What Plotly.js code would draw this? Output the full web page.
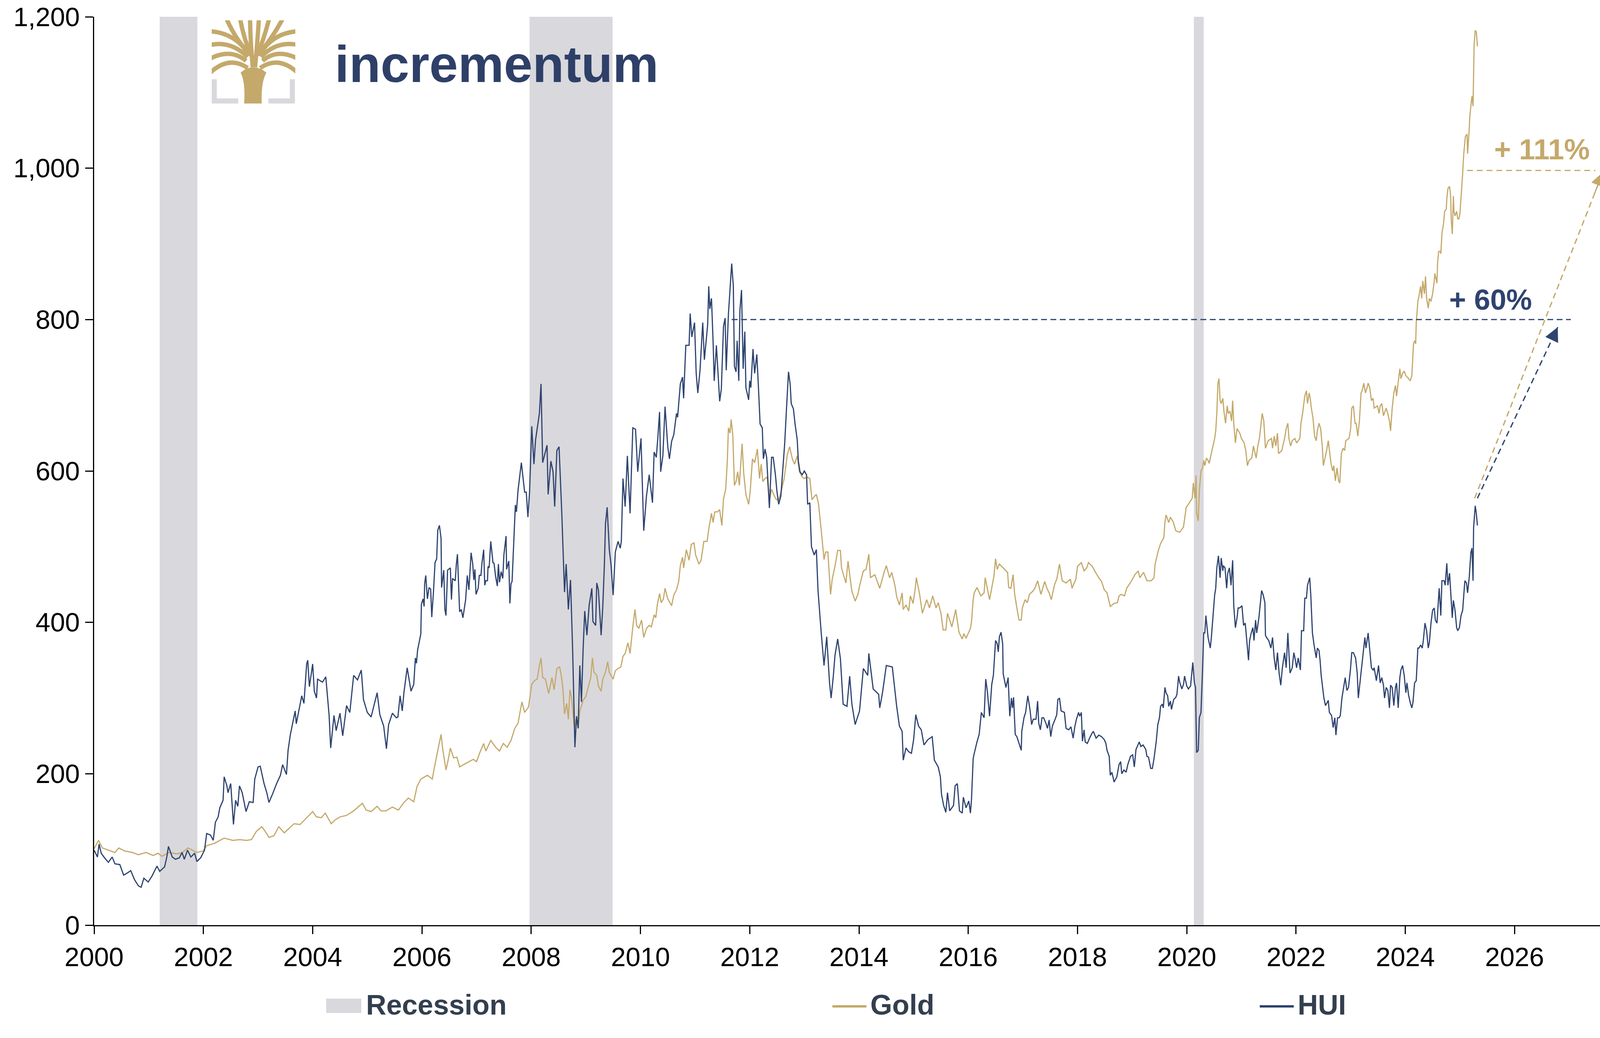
<!DOCTYPE html>
<html><head><meta charset="utf-8">
<script src="https://cdn.plot.ly/plotly-3.0.1.min.js"></script>
<style>html,body{margin:0;padding:0;background:#fff;}</style>
</head><body>
<div id="chart" style="width:4267px;height:2658px"></div>
<script>
// ---- data (decimal years, index 2000 = 100) ----
const hui_years = [
2000.00,2000.06,2000.09,2000.13,2000.19,2000.26,2000.33,2000.38,2000.47,2000.54,2000.61,2000.67,2000.74,2000.81,2000.86,2000.91,2000.99,
2001.06,2001.15,2001.20,2001.29,2001.33,2001.36,2001.43,2001.49,2001.56,2001.61,2001.65,2001.71,2001.77,2001.84,2001.88,2001.95,
2002.02,2002.06,2002.13,2002.18,2002.22,2002.27,2002.30,2002.36,2002.38,2002.43,2002.45,2002.50,2002.55,2002.59,2002.63,2002.66,2002.71,2002.78,2002.84,2002.91,2002.94,
2003.00,2003.04,2003.11,2003.16,2003.20,2003.27,2003.34,2003.41,2003.45,2003.52,2003.55,2003.59,2003.64,2003.68,2003.70,2003.80,2003.84,2003.89,2003.91,2003.94,
2004.00,2004.03,2004.07,2004.09,2004.18,2004.24,2004.30,2004.33,2004.39,2004.43,2004.50,2004.55,2004.62,2004.68,2004.75,2004.82,2004.89,2004.93,
2005.00,2005.07,2005.18,2005.23,2005.30,2005.35,2005.39,2005.46,2005.53,2005.56,2005.60,2005.64,2005.67,2005.73,2005.80,2005.85,
2005.88,2005.90,2005.92,2005.96,2005.98,2005.99,2006.02,2006.04,2006.05,2006.07,2006.10,2006.13,2006.16,2006.18,2006.21,2006.24,2006.27,2006.29,2006.32,2006.35,2006.36,2006.40,2006.42,2006.44,2006.47,2006.52,2006.54,2006.56,2006.61,2006.63,2006.65,2006.69,2006.72,2006.75,2006.78,2006.80,2006.83,2006.86,2006.90,2006.93,2006.95,2006.97,2006.99,
2007.03,2007.05,2007.08,2007.10,2007.13,2007.15,2007.17,2007.20,2007.21,2007.23,2007.26,2007.30,2007.32,2007.35,2007.38,2007.40,2007.42,2007.45,2007.48,2007.50,2007.54,2007.55,2007.59,2007.61,2007.63,2007.65,2007.68,2007.71,2007.73,2007.76,
2007.82,2007.88,2007.91,2007.94,2007.97,2008.01,2008.05,2008.08,2008.15,2008.18,2008.21,2008.26,2008.29,2008.31,2008.36,2008.40,2008.43,2008.47,2008.51,2008.56,2008.61,2008.64,2008.68,2008.72,2008.76,2008.80,2008.83,2008.86,2008.89,2008.92,2008.95,2008.98,
2009.02,2009.06,2009.11,2009.13,2009.18,2009.20,2009.23,2009.28,2009.31,2009.34,2009.36,2009.39,2009.43,2009.46,2009.50,2009.54,2009.59,2009.63,2009.65,2009.68,2009.72,2009.76,2009.81,2009.86,2009.91,2009.95,
2010.01,2010.06,2010.11,2010.16,2010.22,2010.25,2010.29,2010.32,2010.35,2010.37,2010.41,2010.45,2010.50,2010.53,2010.57,2010.61,2010.66,2010.68,2010.73,2010.77,2010.79,2010.83,2010.89,2010.91,2010.94,2010.99,
2011.02,2011.05,2011.09,2011.14,2011.17,2011.23,2011.25,2011.27,2011.30,2011.33,2011.35,2011.39,2011.45,2011.48,2011.52,2011.55,2011.57,2011.61,2011.67,2011.70,2011.72,2011.75,2011.77,2011.80,2011.82,2011.85,2011.88,2011.91,2011.93,2011.98,
2012.00,2012.02,2012.06,2012.09,2012.13,2012.16,2012.19,2012.23,2012.25,2012.28,2012.31,2012.36,2012.40,2012.43,2012.47,2012.50,2012.53,2012.57,2012.60,2012.64,2012.67,2012.71,2012.74,2012.76,2012.80,2012.83,2012.87,2012.89,2012.92,2012.96,
2013.00,2013.04,2013.06,2013.10,2013.13,2013.18,2013.22,2013.25,2013.31,2013.36,2013.41,2013.46,2013.49,2013.53,2013.56,2013.61,2013.66,2013.71,2013.78,2013.83,2013.87,2013.93,
2014.01,2014.08,2014.16,2014.18,2014.26,2014.36,2014.38,2014.43,2014.50,2014.61,2014.69,2014.74,2014.79,2014.81,2014.86,2014.91,2014.96,2015.00,
2015.04,2015.09,2015.14,2015.19,2015.26,2015.34,2015.38,2015.45,2015.49,2015.51,2015.55,2015.59,2015.62,2015.66,2015.73,2015.76,2015.80,2015.84,2015.89,2015.91,2015.96,
2016.01,2016.04,2016.06,2016.09,2016.11,2016.16,2016.20,2016.24,2016.29,2016.32,2016.35,2016.39,2016.43,2016.46,2016.50,2016.53,2016.55,2016.57,2016.60,2016.63,2016.64,2016.69,2016.73,2016.76,2016.79,2016.81,2016.83,2016.86,2016.89,2016.93,2016.97,2016.98,
2017.02,2017.05,2017.09,2017.13,2017.16,2017.19,2017.24,2017.27,2017.29,2017.32,2017.35,2017.38,2017.42,2017.45,2017.48,2017.51,2017.54,2017.59,2017.62,2017.64,2017.67,2017.70,2017.76,2017.79,2017.84,2017.88,2017.92,2017.95,2017.98,
2018.02,2018.04,2018.07,2018.09,2018.12,2018.14,2018.18,2018.22,2018.27,2018.29,2018.34,2018.39,2018.44,2018.49,2018.52,2018.54,2018.58,2018.60,2018.63,2018.67,2018.72,2018.76,2018.79,2018.81,2018.85,2018.89,2018.92,2018.97,
2019.01,2019.04,2019.07,2019.13,2019.16,2019.20,2019.25,2019.27,2019.30,2019.34,2019.37,2019.40,2019.44,2019.47,2019.50,2019.52,2019.55,2019.57,2019.60,2019.62,2019.65,2019.67,2019.70,2019.72,2019.76,2019.80,2019.82,2019.85,2019.87,2019.91,2019.94,2019.96,
2020.00,2020.03,2020.07,2020.11,2020.14,2020.16,2020.18,2020.21,2020.23,2020.26,2020.29,2020.31,2020.33,2020.35,2020.39,2020.43,2020.45,2020.48,2020.51,2020.53,2020.55,2020.58,2020.61,2020.63,2020.66,2020.67,2020.70,2020.73,2020.75,2020.78,2020.81,2020.84,2020.86,2020.89,2020.92,2020.94,2020.97,
2021.01,2021.04,2021.07,2021.10,2021.13,2021.15,2021.18,2021.21,2021.23,2021.26,2021.28,2021.32,2021.34,2021.37,2021.40,2021.43,2021.44,2021.46,2021.50,2021.54,2021.57,2021.60,2021.63,2021.66,2021.69,2021.72,2021.75,2021.79,2021.82,2021.85,2021.89,2021.93,2021.96,2021.98,
2022.01,2022.04,2022.08,2022.10,2022.14,2022.16,2022.19,2022.21,2022.25,2022.27,2022.30,2022.33,2022.37,2022.39,2022.42,2022.44,2022.46,2022.49,2022.51,2022.54,2022.59,2022.61,2022.65,2022.68,2022.71,2022.73,2022.76,2022.79,2022.81,2022.84,2022.87,2022.90,2022.93,2022.96,2022.995,
2023.02,2023.05,2023.09,2023.12,2023.14,2023.18,2023.20,2023.23,2023.26,2023.28,2023.32,2023.35,2023.38,2023.41,2023.43,2023.47,2023.51,2023.54,2023.57,2023.60,2023.62,2023.65,2023.68,2023.71,2023.73,2023.76,2023.79,2023.82,2023.84,2023.87,2023.90,2023.92,2023.95,2023.98,
2024.01,2024.03,2024.06,2024.09,2024.12,2024.14,2024.17,2024.20,2024.23,2024.25,2024.28,2024.31,2024.33,2024.36,2024.39,2024.42,2024.44,2024.47,2024.50,2024.53,2024.55,2024.58,2024.61,2024.62,2024.65,2024.67,2024.71,2024.73,2024.76,2024.78,2024.81,2024.84,2024.86,2024.88,2024.91,2024.94,2024.96,2024.99,
2025.02,2025.05,2025.07,2025.09,2025.12,2025.14,2025.17,2025.20,2025.22,2025.24,2025.25,2025.28,2025.30,2025.32];
const hui_values = [
99,90,107,95,89,83,90,81,80,66,69,72,60,52,50,62,57,
65,78,71,77,90,104,90,87,89,96,87,99,90,95,84,89,
99,121,119,112,136,143,155,165,196,184,175,187,133,165,157,184,175,150,163,162,193,
209,210,187,175,162,174,187,198,212,199,231,251,269,283,266,303,293,345,350,315,
345,309,300,325,321,328,278,234,277,257,280,250,290,281,330,324,337,298,
281,275,307,278,263,233,265,280,274,275,303,283,307,340,309,318,
353,346,363,377,385,424,431,421,451,462,431,446,444,407,439,479,484,522,528,511,446,469,417,409,469,472,430,458,455,477,490,414,417,406,420,430,462,443,492,477,456,470,437,
445,462,462,479,496,449,455,455,474,472,507,479,478,460,448,477,453,467,458,489,514,470,481,425,451,454,508,555,546,575,
611,572,572,539,572,659,609,641,676,715,611,625,634,569,613,599,553,627,632,544,440,477,417,456,360,235,276,260,343,295,364,415,
383,422,445,401,396,452,443,383,420,477,530,552,496,477,436,493,507,498,507,590,553,620,544,657,655,599,
643,521,567,595,558,625,618,646,678,599,620,685,632,616,639,648,676,671,715,724,696,766,766,808,777,796,
729,703,733,796,747,793,844,814,828,770,719,766,692,708,791,802,733,807,874,844,738,731,772,719,812,839,735,784,710,694,
719,710,761,729,754,710,662,657,616,629,618,551,618,618,595,572,556,567,599,636,678,731,715,689,682,662,641,613,599,595,
600,595,556,558,500,489,496,442,385,343,381,321,300,329,356,378,352,292,289,329,292,265,
283,339,330,359,312,305,287,307,343,341,289,263,256,218,234,229,227,245,
278,263,258,238,245,249,218,209,196,173,158,149,175,151,158,184,187,151,148,169,155,
164,148,167,220,227,242,252,281,274,325,309,276,318,330,376,372,361,381,387,372,332,314,327,276,300,287,301,252,249,240,231,256,
274,281,303,285,265,272,272,296,267,258,274,274,267,260,271,249,263,272,278,298,300,283,281,260,258,262,247,262,272,
281,276,281,243,258,242,240,247,254,256,247,251,249,245,240,231,223,198,202,189,196,212,216,200,205,202,212,223,
225,209,232,242,236,238,232,223,222,207,207,220,242,265,274,289,292,287,314,307,303,289,296,285,298,301,305,329,321,312,318,329,
316,312,316,347,320,314,228,231,274,281,340,386,386,409,380,366,380,406,436,445,472,488,459,485,468,475,472,445,465,472,449,482,422,393,406,419,419,
422,396,399,376,350,376,386,393,376,403,386,406,422,442,436,426,383,380,376,366,380,353,337,360,333,317,340,360,340,386,333,340,360,353,
340,353,337,389,389,432,432,449,459,436,386,370,353,366,363,350,330,310,300,290,297,281,277,261,274,251,274,274,277,300,314,327,310,314,337,
360,360,353,333,300,327,340,360,380,366,386,363,340,337,340,323,343,320,327,317,300,314,310,287,317,314,290,314,320,287,327,337,343,330,
307,320,304,294,287,294,320,323,366,366,370,366,376,399,389,366,373,399,416,419,403,399,432,445,409,455,455,449,478,449,465,432,406,429,416,393,389,393,
409,416,436,455,452,439,459,492,498,455,525,554,544,528];

const gold_years = [
2000.00,2000.08,2000.15,2000.26,2000.38,2000.45,2000.56,2000.70,2000.81,2000.95,2001.08,2001.17,2001.24,2001.38,2001.52,2001.61,2001.72,2001.88,2001.995,
2002.06,2002.20,2002.38,2002.54,2002.66,2002.79,2002.88,2002.97,2003.07,2003.13,2003.20,2003.29,2003.38,2003.48,2003.57,2003.66,2003.77,2003.89,
2004.00,2004.07,2004.16,2004.23,2004.34,2004.41,2004.50,2004.62,2004.73,2004.80,2004.91,2004.98,2005.07,2005.18,2005.25,2005.34,2005.46,2005.57,2005.66,2005.75,2005.85,2005.91,2005.98,
2006.10,2006.19,2006.23,2006.30,2006.35,2006.38,2006.44,2006.48,2006.52,2006.58,2006.64,2006.69,2006.76,2006.94,
2007.00,2007.06,2007.13,2007.17,2007.26,2007.35,2007.42,2007.49,2007.56,2007.63,2007.70,2007.76,2007.83,2007.88,2007.95,
2008.01,2008.06,2008.11,2008.15,2008.18,2008.21,2008.26,2008.32,2008.38,2008.42,2008.47,2008.52,2008.55,2008.58,2008.61,2008.65,2008.68,2008.71,2008.74,2008.79,2008.82,2008.86,2008.89,2008.95,
2009.00,2009.05,2009.09,2009.12,2009.15,2009.20,2009.23,2009.28,2009.31,2009.36,2009.40,2009.43,2009.50,2009.54,2009.59,2009.64,2009.68,2009.72,2009.77,2009.81,2009.86,2009.90,2009.93,2009.97,
2010.02,2010.06,2010.11,2010.16,2010.20,2010.25,2010.28,2010.31,2010.35,2010.38,2010.42,2010.45,2010.50,2010.57,2010.61,2010.66,2010.70,2010.73,2010.77,2010.79,2010.84,2010.89,2010.93,2010.98,
2011.01,2011.07,2011.11,2011.16,2011.22,2011.25,2011.30,2011.33,2011.36,2011.41,2011.45,2011.49,2011.52,2011.56,2011.59,2011.61,2011.64,2011.66,2011.69,2011.72,2011.75,2011.78,2011.81,2011.86,2011.89,2011.93,2011.98,
2012.01,2012.05,2012.09,2012.14,2012.18,2012.21,2012.24,2012.28,2012.32,2012.36,2012.40,2012.45,2012.49,2012.53,2012.58,2012.63,2012.69,2012.73,2012.78,2012.82,2012.87,2012.91,2012.96,
2013.00,2013.05,2013.10,2013.14,2013.19,2013.22,2013.26,2013.31,2013.36,2013.39,2013.43,2013.48,2013.51,2013.56,2013.61,2013.66,2013.68,2013.76,2013.80,2013.84,2013.87,2013.93,2013.98,
2014.01,2014.08,2014.13,2014.18,2014.21,2014.29,2014.38,2014.46,2014.50,2014.56,2014.60,2014.66,2014.69,2014.74,2014.79,2014.81,2014.86,2014.91,2014.94,2014.99,
2015.03,2015.05,2015.11,2015.16,2015.24,2015.29,2015.35,2015.41,2015.45,2015.50,2015.54,2015.59,2015.62,2015.70,2015.74,2015.77,2015.83,2015.89,2015.92,2015.96,
2016.04,2016.06,2016.09,2016.11,2016.16,2016.23,2016.29,2016.31,2016.39,2016.43,2016.47,2016.50,2016.53,2016.57,2016.64,2016.72,2016.74,2016.78,2016.82,2016.85,2016.89,2016.93,2016.97,2016.99,
2017.04,2017.08,2017.12,2017.18,2017.22,2017.27,2017.33,2017.40,2017.44,2017.48,2017.52,2017.58,2017.62,2017.67,2017.72,2017.79,2017.87,2017.90,2017.97,
2018.00,2018.07,2018.12,2018.17,2018.20,2018.27,2018.33,2018.39,2018.44,2018.49,2018.54,2018.60,2018.67,2018.73,2018.76,2018.80,2018.86,2018.90,2018.96,2018.99,
2019.05,2019.11,2019.14,2019.21,2019.27,2019.35,2019.40,2019.42,2019.48,2019.52,2019.58,2019.60,2019.62,2019.67,2019.70,2019.75,2019.80,2019.87,2019.94,2019.99,
2020.02,2020.07,2020.10,2020.12,2020.15,2020.17,2020.18,2020.21,2020.23,2020.26,2020.29,2020.31,2020.33,2020.36,2020.39,2020.41,2020.44,2020.48,2020.51,2020.53,2020.55,2020.57,2020.59,2020.61,2020.63,2020.66,2020.68,2020.71,2020.74,2020.76,2020.79,2020.82,2020.84,2020.86,2020.89,2020.92,2020.97,
2021.00,2021.05,2021.08,2021.11,2021.14,2021.19,2021.22,2021.27,2021.30,2021.33,2021.35,2021.38,2021.41,2021.44,2021.49,2021.55,2021.57,2021.60,2021.63,2021.66,2021.68,2021.74,2021.77,2021.79,2021.82,2021.85,2021.87,2021.90,2021.93,2021.98,
2022.01,2022.07,2022.09,2022.12,2022.16,2022.19,2022.21,2022.24,2022.26,2022.28,2022.31,2022.34,2022.37,2022.39,2022.42,2022.45,2022.48,2022.50,2022.53,2022.56,2022.59,2022.61,2022.64,2022.67,2022.69,2022.72,2022.75,2022.78,2022.80,2022.83,2022.86,2022.89,2022.91,2022.97,
2023.00,2023.02,2023.05,2023.08,2023.10,2023.13,2023.16,2023.19,2023.21,2023.24,2023.27,2023.30,2023.32,2023.35,2023.38,2023.41,2023.43,2023.49,2023.52,2023.54,2023.57,2023.60,2023.65,2023.68,2023.71,2023.73,2023.76,2023.79,2023.82,2023.84,2023.87,2023.90,2023.92,2023.95,2023.98,
2024.01,2024.06,2024.09,2024.12,2024.13,2024.15,2024.17,2024.19,2024.20,2024.23,2024.25,2024.28,2024.30,2024.32,2024.35,2024.37,2024.39,2024.42,2024.44,2024.47,2024.50,2024.53,2024.54,2024.58,2024.59,2024.61,2024.64,2024.65,2024.67,2024.70,2024.72,2024.75,2024.76,2024.78,2024.81,2024.83,2024.84,2024.86,2024.88,2024.89,2024.91,2024.94,2024.96,2024.98,
2025.00,2025.02,2025.05,2025.07,2025.10,2025.13,2025.14,2025.17,2025.18,2025.20,2025.22,2025.24,2025.25,2025.26,2025.28,2025.30,2025.32];
const gold_values = [
101,112,102,99,96,102,98,96,93,96,92,95,91,96,94,96,102,96,98,
105,108,115,112,113,112,113,124,130,124,116,118,130,122,128,134,133,142,
150,143,142,148,134,139,143,145,150,154,161,152,150,157,151,151,156,152,161,168,163,183,193,
198,193,209,233,252,233,205,218,234,221,222,209,212,219,
216,228,240,230,244,235,230,240,235,244,260,267,295,281,288,
318,323,325,343,353,327,325,306,327,311,339,341,330,313,279,293,272,311,300,260,272,260,283,297,
302,316,327,353,334,330,316,309,325,334,348,334,325,336,339,341,355,359,373,359,394,417,396,392,
403,380,392,396,394,410,406,424,438,426,431,445,431,422,436,443,454,475,486,472,496,482,503,505,
489,477,482,507,507,523,544,532,546,546,549,528,563,576,613,657,650,668,648,581,586,599,581,636,597,569,556,
574,616,611,629,590,609,586,590,592,560,576,567,562,562,574,590,622,632,616,609,620,599,592,
590,592,590,562,567,569,556,521,483,493,493,437,457,474,495,495,472,452,481,457,441,428,437,
448,468,470,490,459,463,445,466,475,459,466,448,434,423,439,417,423,415,435,425,
445,459,437,412,430,419,435,419,426,412,390,390,412,394,407,417,387,378,385,379,
392,401,430,439,446,435,439,459,430,445,461,484,470,477,472,466,446,445,463,437,419,403,403,419,
430,426,437,441,445,455,437,454,445,439,430,450,457,477,455,452,457,445,457,
474,479,468,472,479,474,466,459,454,443,439,421,425,426,435,437,435,445,452,455,
463,468,459,466,455,455,459,477,495,504,512,532,542,532,539,533,521,519,526,552,
555,561,564,584,564,594,544,534,574,600,604,614,607,617,614,610,620,633,643,653,676,716,722,693,689,696,679,663,686,676,679,666,693,663,637,656,650,
643,637,627,607,614,617,633,617,633,643,656,676,666,630,640,643,630,646,633,650,623,627,637,643,656,663,643,633,640,643,
637,643,663,676,699,706,689,703,696,683,670,646,640,653,663,656,633,607,617,627,640,627,610,600,607,587,604,587,584,623,630,627,640,643,
656,683,686,663,663,646,666,703,706,716,703,710,716,710,693,696,683,686,676,686,689,673,683,676,666,653,683,703,713,699,716,735,722,729,732,
726,722,719,726,739,768,772,768,795,824,831,844,828,851,834,857,828,815,828,824,834,851,861,848,874,890,890,887,913,927,943,946,960,973,976,963,933,913,963,943,937,943,933,933,
940,960,993,1019,1042,1045,1019,1052,1068,1082,1095,1082,1138,1164,1182,1180,1161];

const recession_start = [2001.20, 2007.97, 2020.13];
const recession_end   = [2001.89, 2009.49, 2020.31];
const x_tick_values = [2000,2002,2004,2006,2008,2010,2012,2014,2016,2018,2020,2022,2024,2026];
const y_tick_values = [0,200,400,600,800,1000,1200];
const legend_labels = ['Recession','Gold','HUI'];

// annotation levels
const hui_level = 800, hui_level_from = 2011.67, hui_level_to = 2027.03;
const gold_level = 997, gold_level_from = 2025.13, gold_level_to = 2027.48;
const hui_arrow = {x0:2025.32, y0:564, x1:2026.79, y1:790};
const gold_arrow = {x0:2025.27, y0:564, x1:2027.62, y1:995};
const hui_label = {text:'+ 60%', x:2025.56, y:826};
const gold_label = {text:'+ 111%', x:2026.50, y:1025};

const GOLD = '#C4A96B', NAVY = '#2E4370', GREY = '#D9D8DC', LEGTXT = '#333F4F';
const FONT = 'Liberation Sans, Arial, Helvetica, sans-serif';

// plot-area pixel geometry (for paper positioning of legend/logo)
const W = 4267, H = 2658, L = 241, R = 4157, T = 43, B = 2369;
const px = v => (v - L) / (R - L);
const py = v => (B - v) / (B - T);

const traces = [
  {x: gold_years, y: gold_values, type:'scatter', mode:'lines', name:'Gold',
   line:{color:GOLD, width:3}, showlegend:false, hoverinfo:'skip'},
  {x: hui_years, y: hui_values, type:'scatter', mode:'lines', name:'HUI',
   line:{color:NAVY, width:3}, showlegend:false, hoverinfo:'skip'}
];

const shapes = [];
recession_start.forEach((s,i)=>{
  shapes.push({type:'rect', xref:'x', yref:'paper', x0:s, x1:recession_end[i], y0:0, y1:1,
    fillcolor:GREY, line:{width:0}, layer:'below'});
});
shapes.push({type:'line', xref:'x', yref:'y', x0:hui_level_from, x1:hui_level_to, y0:hui_level, y1:hui_level,
  line:{color:NAVY, width:3, dash:'15px,9px'}});
shapes.push({type:'line', xref:'x', yref:'y', x0:gold_level_from, x1:gold_level_to, y0:gold_level, y1:gold_level,
  line:{color:GOLD, width:3, dash:'15px,10px'}});
shapes.push({type:'line', xref:'x', yref:'y', x0:gold_arrow.x0, y0:gold_arrow.y0, x1:gold_arrow.x1, y1:gold_arrow.y1,
  line:{color:GOLD, width:3.3, dash:'15px,10px'}});
shapes.push({type:'line', xref:'x', yref:'y', x0:hui_arrow.x0, y0:hui_arrow.y0, x1:hui_arrow.x1, y1:hui_arrow.y1,
  line:{color:NAVY, width:3.3, dash:'15px,10px'}});
// manual legend
shapes.push({type:'rect', xref:'paper', yref:'paper', x0:px(835), x1:px(925), y0:py(2594), y1:py(2557),
  fillcolor:GREY, line:{width:0}});
shapes.push({type:'line', xref:'paper', yref:'paper', x0:px(2131), x1:px(2218), y0:py(2577), y1:py(2577),
  line:{color:GOLD, width:6}});
shapes.push({type:'line', xref:'paper', yref:'paper', x0:px(3225), x1:px(3312), y0:py(2577), y1:py(2577),
  line:{color:NAVY, width:6}});

function arrowHead(a, color){
  const t = 0.93;
  return {x:a.x1, y:a.y1, xref:'x', yref:'y', axref:'x', ayref:'y',
    ax:a.x0 + (a.x1-a.x0)*t, ay:a.y0 + (a.y1-a.y0)*t, text:'', showarrow:true,
    arrowhead:2, arrowsize:2.4, arrowwidth:3, arrowcolor:color};
}

const annotations = [
  arrowHead(gold_arrow, GOLD),
  arrowHead(hui_arrow, NAVY),
  {x:gold_label.x, y:gold_label.y, xref:'x', yref:'y', text:gold_label.text, showarrow:false,
   font:{family:FONT, size:74, color:GOLD, weight:'bold'}},
  {x:hui_label.x, y:hui_label.y, xref:'x', yref:'y', text:hui_label.text, showarrow:false,
   font:{family:FONT, size:74, color:NAVY, weight:'bold'}},
  {x:px(935), y:py(2573), xref:'paper', yref:'paper', xanchor:'left', yanchor:'middle', text:legend_labels[0],
   showarrow:false, font:{family:FONT, size:72, color:LEGTXT, weight:'bold'}},
  {x:px(2226), y:py(2573), xref:'paper', yref:'paper', xanchor:'left', yanchor:'middle', text:legend_labels[1],
   showarrow:false, font:{family:FONT, size:72, color:LEGTXT, weight:'bold'}},
  {x:px(3320), y:py(2573), xref:'paper', yref:'paper', xanchor:'left', yanchor:'middle', text:legend_labels[2],
   showarrow:false, font:{family:FONT, size:72, color:LEGTXT, weight:'bold'}},
  {x:px(855), y:py(165), xref:'paper', yref:'paper', xanchor:'left', yanchor:'middle', text:'incrementum',
   showarrow:false, font:{family:FONT, size:132, color:'#2E4068', weight:'bold'}}
];

const treeSvg = "<svg xmlns='http://www.w3.org/2000/svg' viewBox='0 0 240 240'>" +
 "<defs><clipPath id='c'><rect x='12' y='12' width='214' height='142'/></clipPath></defs>" +
 "<g fill='none' stroke='#D9D8DC' stroke-width='13'><path d='M18.5 163 V218.5 H80'/><path d='M218.5 163 V218.5 H157'/></g>" +
 "<g clip-path='url(#c)' fill='none' stroke='#C4A96B' stroke-width='11'>" +
 "<path d='M4 150 Q55 100 104 134'/>" +
 "<path d='M4 112 Q60 82 100 116'/>" +
 "<path d='M4 76 Q60 62 104 106'/>" +
 "<path d='M4 40 Q70 42 108 100'/>" +
 "<path d='M48 4 Q72 60 110 100'/>" +
 "<path d='M84 4 Q94 60 113 102'/>" +
 "<path d='M110 4 Q111 70 117 132'/>" +
 "<path d='M133 4 Q129 70 123 132'/>" +
 "<path d='M160 4 Q146 60 128 102'/>" +
 "<path d='M196 4 Q166 60 131 100'/>" +
 "<path d='M236 40 Q170 42 134 100'/>" +
 "<path d='M236 76 Q180 62 138 106'/>" +
 "<path d='M236 112 Q180 82 142 116'/>" +
 "<path d='M236 150 Q185 100 136 134'/>" +
 "</g>" +
 "<path fill='#C4A96B' d='M95 225 C97 195 96 165 86 146 Q118 118 152 146 C141 165 139 195 140 225 Z'/>" +
 "</svg>";

const layout = {
  width: W, height: H,
  margin: {l:L, r:W-R, t:T, b:H-B, pad:0},
  paper_bgcolor:'#ffffff', plot_bgcolor:'#ffffff',
  font: {family: FONT, size: 68, color:'#000000'},
  showlegend: false,
  xaxis: {range:[2000, 2028], tickvals:x_tick_values, ticktext:x_tick_values.map(String),
    showgrid:false, zeroline:false, showline:true, linecolor:'#000', linewidth:3,
    ticks:'outside', ticklen:20, tickwidth:3, tickcolor:'#000',
    tickfont:{family:FONT, size:68, color:'#000'}},
  yaxis: {range:[0, 1200], tickvals:y_tick_values, tickformat:',',
    showgrid:false, zeroline:false, showline:true, linecolor:'#000', linewidth:3,
    ticks:'outside', ticklen:20, tickwidth:3, tickcolor:'#000',
    tickfont:{family:FONT, size:68, color:'#000'}},
  shapes: shapes,
  annotations: annotations,
  images: [{source:'data:image/svg+xml;charset=utf-8,' + encodeURIComponent(treeSvg),
    xref:'paper', yref:'paper', x:px(530), y:py(40), sizex:240/(R-L), sizey:240/(B-T),
    xanchor:'left', yanchor:'top', sizing:'stretch', layer:'above'}]
};

Plotly.newPlot('chart', traces, layout, {staticPlot:true, displayModeBar:false, responsive:false});
</script>
</body></html>
